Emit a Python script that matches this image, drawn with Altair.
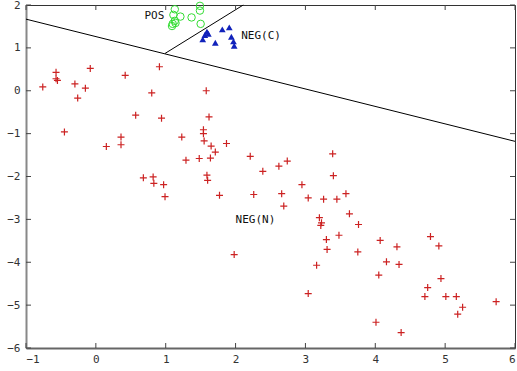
import altair as alt
import pandas as pd

# NEG(N) red pluses
negn_x = [-0.76, -0.57, -0.57, -0.55, -0.30, -0.15, -0.26, -0.08, -0.45, 0.42, 0.91, 0.80, 0.57, 0.94,
          1.58, 1.62, 0.15, 0.36, 0.36, 1.23, 1.54, 1.54, 1.55, 1.65, 1.71, 1.87, 1.29, 1.48, 1.64,
          2.21, 0.68, 0.82, 0.83, 0.97, 1.59, 1.60, 0.99, 1.77, 2.26, 1.98, 2.39, 2.62, 2.74, 3.39,
          3.40, 2.95, 2.66, 2.69, 3.04, 3.26, 3.45, 3.58, 3.63, 3.76, 3.20, 3.23, 3.22, 3.30, 3.31,
          3.48, 3.75, 3.16, 3.04, 4.07, 4.31, 4.16, 4.34, 4.05, 4.01, 4.37, 4.79, 4.91, 4.94, 4.75,
          4.71, 5.01, 5.16, 5.25, 5.18, 5.73]
negn_y = [0.09, 0.43, 0.28, 0.24, 0.16, 0.06, -0.17, 0.52, -0.96, 0.36, 0.56, -0.05, -0.57, -0.64,
          0.0, -0.61, -1.30, -1.08, -1.26, -1.08, -0.91, -1.0, -1.17, -1.29, -1.43, -1.23, -1.62, -1.58, -1.57,
          -1.53, -2.03, -2.01, -2.16, -2.19, -1.97, -2.09, -2.47, -2.44, -2.42, -3.82, -1.88, -1.76, -1.64, -1.47,
          -1.98, -2.19, -2.40, -2.69, -2.50, -2.53, -2.53, -2.40, -2.87, -3.12, -2.96, -3.08, -3.14, -3.47, -3.70,
          -3.37, -3.76, -4.07, -4.73, -3.49, -3.64, -3.99, -4.05, -4.30, -5.40, -5.64, -3.40, -3.62, -4.38, -4.59,
          -4.80, -4.80, -4.80, -5.05, -5.21, -4.92]

# POS green circles
pos_x = [1.49, 1.49, 1.13, 1.11, 1.21, 1.37, 1.50, 1.13, 1.10, 1.09, 1.14]
pos_y = [1.98, 1.87, 1.90, 1.77, 1.73, 1.71, 1.56, 1.63, 1.56, 1.51, 1.58]

# NEG(C) blue triangles
negc_x = [1.59, 1.56, 1.61, 1.53, 1.71, 1.81, 1.91, 1.94, 1.97, 1.98]
negc_y = [1.38, 1.30, 1.33, 1.20, 1.12, 1.43, 1.48, 1.26, 1.15, 1.05]

# boundary lines
line1_x = [-1.0, 6.0]
line1_y = [1.67, -1.18]
line2_x = [0.99, 2.11]
line2_y = [0.87, 2.0]

# labels
label_text = ["POS", "NEG(C)", "NEG(N)"]
label_x = [0.98, 2.08, 2.0]
label_y = [1.74, 1.28, -3.02]
label_align = ["right", "left", "left"]

x_ticks = [-1, 0, 1, 2, 3, 4, 5, 6]
y_ticks = [-6, -5, -4, -3, -2, -1, 0, 1, 2]

W, H = 489, 343
FONT = "DejaVu Sans Mono"

xs = alt.Scale(domain=[-1, 6], nice=False, zero=False)
ys = alt.Scale(domain=[-6, 2], nice=False, zero=False)

X = alt.X("x:Q", scale=xs, axis=alt.Axis(values=x_ticks, format="d", grid=False, ticks=False, labelPadding=5,
                                          domainColor="#666", domainWidth=2, labelFont=FONT,
                                          labelFontSize=11, labelColor="#333", title=None))
Y = alt.Y("y:Q", scale=ys, axis=alt.Axis(values=y_ticks, format="d", grid=False, ticks=False, labelPadding=6,
                                          domainColor="#888", domainWidth=2, labelFont=FONT,
                                          labelFontSize=11, labelColor="#333", title=None))

df_n = pd.DataFrame({"x": negn_x, "y": negn_y})
df_p = pd.DataFrame({"x": pos_x, "y": pos_y})
df_c = pd.DataFrame({"x": negc_x, "y": negc_y})
df_l1 = pd.DataFrame({"x": line1_x, "y": line1_y})
df_l2 = pd.DataFrame({"x": line2_x, "y": line2_y})
df_lab = pd.DataFrame({"x": label_x, "y": label_y, "t": label_text, "a": label_align})
df_xt = pd.DataFrame({"x": x_ticks})
df_yt = pd.DataFrame({"y": y_ticks})

plus = alt.Chart(df_n).mark_point(shape="M-1,0L1,0M0,-1L0,1", filled=False, size=49,
                                  color="#cc2222", strokeWidth=1.2, opacity=1).encode(x=X, y=Y)
circ = alt.Chart(df_p).mark_point(shape="circle", filled=False, size=56, color="#33dd33",
                                  strokeWidth=1, opacity=1, clip=False).encode(x=X, y=Y)
tri = alt.Chart(df_c).mark_point(shape="triangle-up", filled=True, size=45, color="#1122bb",
                                 opacity=1).encode(x=X, y=Y)
l1 = alt.Chart(df_l1).mark_line(color="black", strokeWidth=1).encode(x=X, y=Y)
l2 = alt.Chart(df_l2).mark_line(color="black", strokeWidth=1).encode(x=X, y=Y)

labs = []
for al in ["left", "right"]:
    labs.append(alt.Chart(df_lab[df_lab["a"] == al]).mark_text(align=al, baseline="middle", font=FONT,
                                                                fontSize=11, color="#111").encode(
        x=X, y=Y, text="t:N"))

tick_col = "#444"
tb = alt.Chart(df_xt).mark_rule(color=tick_col, strokeWidth=1).encode(
    x=alt.X("x:Q", scale=xs), y=alt.value(H), y2=alt.value(H - 5))
tt = alt.Chart(df_xt).mark_rule(color=tick_col, strokeWidth=1).encode(
    x=alt.X("x:Q", scale=xs), y=alt.value(0), y2=alt.value(5))
tl = alt.Chart(df_yt).mark_rule(color=tick_col, strokeWidth=1).encode(
    y=alt.Y("y:Q", scale=ys), x=alt.value(0), x2=alt.value(5))
tr = alt.Chart(df_yt).mark_rule(color=tick_col, strokeWidth=1).encode(
    y=alt.Y("y:Q", scale=ys), x=alt.value(W), x2=alt.value(W - 5))

chart = alt.layer(l1, l2, plus, circ, tri, *labs, tb, tt, tl, tr).properties(
    width=W, height=H,
    autosize=alt.AutoSizeParams(type="none"),
    padding={"left": 26, "top": 5, "right": 2, "bottom": 23},
    background="white",
).configure_view(stroke="#333", strokeWidth=1)

chart.save("out.html", embed_options={"renderer": "svg", "actions": False})
